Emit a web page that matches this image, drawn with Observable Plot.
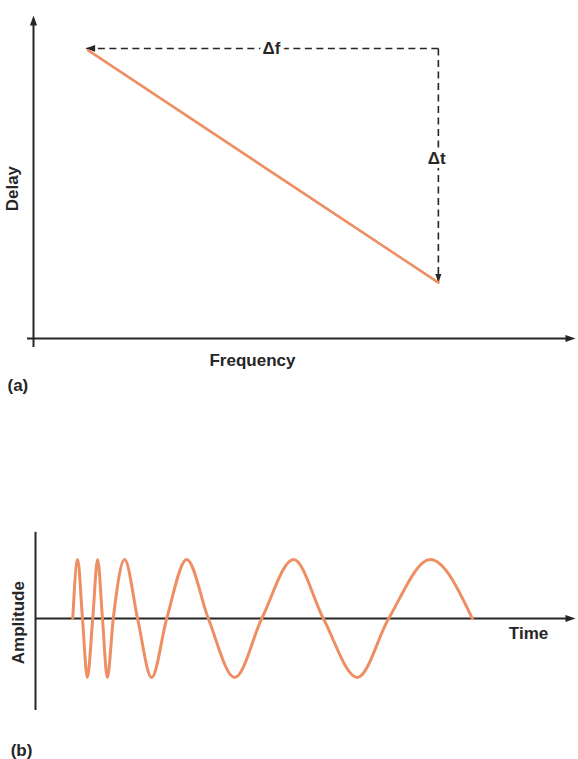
<!DOCTYPE html>
<html><head><meta charset="utf-8">
<script src="https://cdn.jsdelivr.net/npm/d3@7"></script>
<script src="https://cdn.jsdelivr.net/npm/@observablehq/plot@0.6"></script>
<style>body{margin:0;background:#fff} svg{display:block}</style>
</head><body><div id="chart"></div>
<script>
// ---------- Panel (a): delay versus frequency ----------
const freq  = [10.1, 74.7];          // start / end frequency (arbitrary units)
const delay = [89.2, 17.3];          // delay at those frequencies
const deltaFArrow = [{x1: 74.7, x2: 9.6, y: 89.8}];   // Δf dashed arrow
const deltaTArrow = [{x: 74.7, y1: 89.8, y2: 17.3}];  // Δt dashed arrow
const axisAExtent = {xMin: -1.1, yMin: -2.8, max: 100};
const labelsA = [
  {text: "Δf", x: 43.9, y: 89.8, rotate: 0, anchor: "middle"},
  {text: "Δt", x: 74.4, y: 55.7, rotate: 0, anchor: "middle"},
  {text: "Frequency", x: 40.4, y: -6.9, rotate: 0, anchor: "middle"},
  {text: "Delay", x: -3.8, y: 46.4, rotate: -90, anchor: "middle"},
  {text: "(a)", x: -4.8, y: -14.6, rotate: 0, anchor: "start"}
];

// ---------- Panel (b): chirp waveform ----------
const waveT = [6.9, 7.8, 8.7, 9.6, 10.6, 11.5, 12.4, 13.3, 14.4, 16.5, 18.9, 21.5,
               24.3, 28.0, 32.0, 36.9, 41.9, 47.8, 53.3, 59.6, 65.4, 73.1, 80.9];
const waveA = [0, 1, 0, -1, 0, 1, 0, -1, 0, 1, 0, -1,
               0, 1, 0, -1, 0, 1, 0, -1, 0, 1, 0];
const axisBExtent = {yMin: -1.56, yMax: 1.46, xMax: 100};
const labelsB = [
  {text: "Time", x: 91.3, y: -0.25, rotate: 0, anchor: "middle"},
  {text: "Amplitude", x: -3.1, y: -0.07, rotate: -90, anchor: "middle"},
  {text: "(b)", x: -4.6, y: -2.24, rotate: 0, anchor: "start"}
];

const ORANGE = "#ee8f63";
const INK = "#262626";
const FONT = "'Liberation Sans', Arial, Helvetica, sans-serif";

// filled, narrow arrowhead whose tip sits at the anchor point (points up before rotation)
const headSymbol = {
  draw(ctx, size) {
    const r = Math.sqrt(size / Math.PI);
    ctx.moveTo(0, 0);
    ctx.lineTo(0.85 * r, 2.4 * r);
    ctx.lineTo(-0.85 * r, 2.4 * r);
    ctx.closePath();
  }
};

function textMarks(labels) {
  return labels.map(d => Plot.text([d], {
    x: "x", y: "y", text: "text", rotate: d.rotate, textAnchor: d.anchor,
    lineAnchor: "middle", fontSize: 17, fontWeight: "bold", fill: INK,
    stroke: "white", strokeWidth: d.text.startsWith("Δ") ? 8 : 0
  }));
}

const lineData = freq.map((f, i) => ({f, d: delay[i]}));

const plotA = Plot.plot({
  width: 578, height: 400, margin: 0,
  x: {domain: [0, 100], range: [33, 575], axis: null},
  y: {domain: [0, 100], range: [338, 15], axis: null},
  style: {fontFamily: FONT, background: "#fff", overflow: "visible"},
  marks: [
    // axes
    Plot.ruleX([0], {y1: axisAExtent.yMin, y2: axisAExtent.max - 2, stroke: INK, strokeWidth: 2}),
    Plot.ruleY([0], {x1: axisAExtent.xMin, x2: axisAExtent.max - 1, stroke: INK, strokeWidth: 2}),
    Plot.dot([{x: 0, y: axisAExtent.max}], {x: "x", y: "y", symbol: headSymbol, r: 4.2, fill: INK, stroke: "none", rotate: 0}),
    Plot.dot([{x: axisAExtent.max, y: 0}], {x: "x", y: "y", symbol: headSymbol, r: 4.2, fill: INK, stroke: "none", rotate: 90}),
    // dashed Δf / Δt arrows
    Plot.link(deltaFArrow, {x1: "x1", x2: "x2", y1: "y", y2: "y", stroke: INK, strokeWidth: 1.6, strokeDasharray: "7,4.5"}),
    Plot.link(deltaTArrow, {x1: "x", x2: "x", y1: "y1", y2: "y2", stroke: INK, strokeWidth: 1.6, strokeDasharray: "7,4.5"}),
    Plot.dot(deltaFArrow, {x: "x2", y: "y", symbol: headSymbol, r: 4, fill: INK, stroke: "none", rotate: -90}),
    Plot.dot(deltaTArrow, {x: "x", y: "y2", symbol: headSymbol, r: 3.6, fill: INK, stroke: "none", rotate: 180}),
    // delay line
    Plot.line(lineData, {x: "f", y: "d", stroke: ORANGE, strokeWidth: 2.6}),
    ...textMarks(labelsA)
  ]
});

const waveData = waveT.map((t, i) => ({t, a: waveA[i]}));

const plotB = Plot.plot({
  width: 578, height: 359, margin: 0,
  x: {domain: [0, 100], range: [35, 575], axis: null},
  y: {domain: [-1, 1], range: [277, 159], axis: null},
  style: {fontFamily: FONT, background: "#fff", overflow: "visible"},
  marks: [
    Plot.ruleX([0], {y1: axisBExtent.yMin, y2: axisBExtent.yMax, stroke: INK, strokeWidth: 2}),
    Plot.ruleY([0], {x1: 0, x2: axisBExtent.xMax - 1, stroke: INK, strokeWidth: 1.8}),
    Plot.dot([{x: axisBExtent.xMax, y: 0}], {x: "x", y: "y", symbol: headSymbol, r: 4.2, fill: INK, stroke: "none", rotate: 90}),
    Plot.line(waveData, {x: "t", y: "a", curve: "monotone-x", stroke: ORANGE, strokeWidth: 3}),
    ...textMarks(labelsB)
  ]
});

document.getElementById("chart").append(plotA, plotB);
</script>
</body></html>
